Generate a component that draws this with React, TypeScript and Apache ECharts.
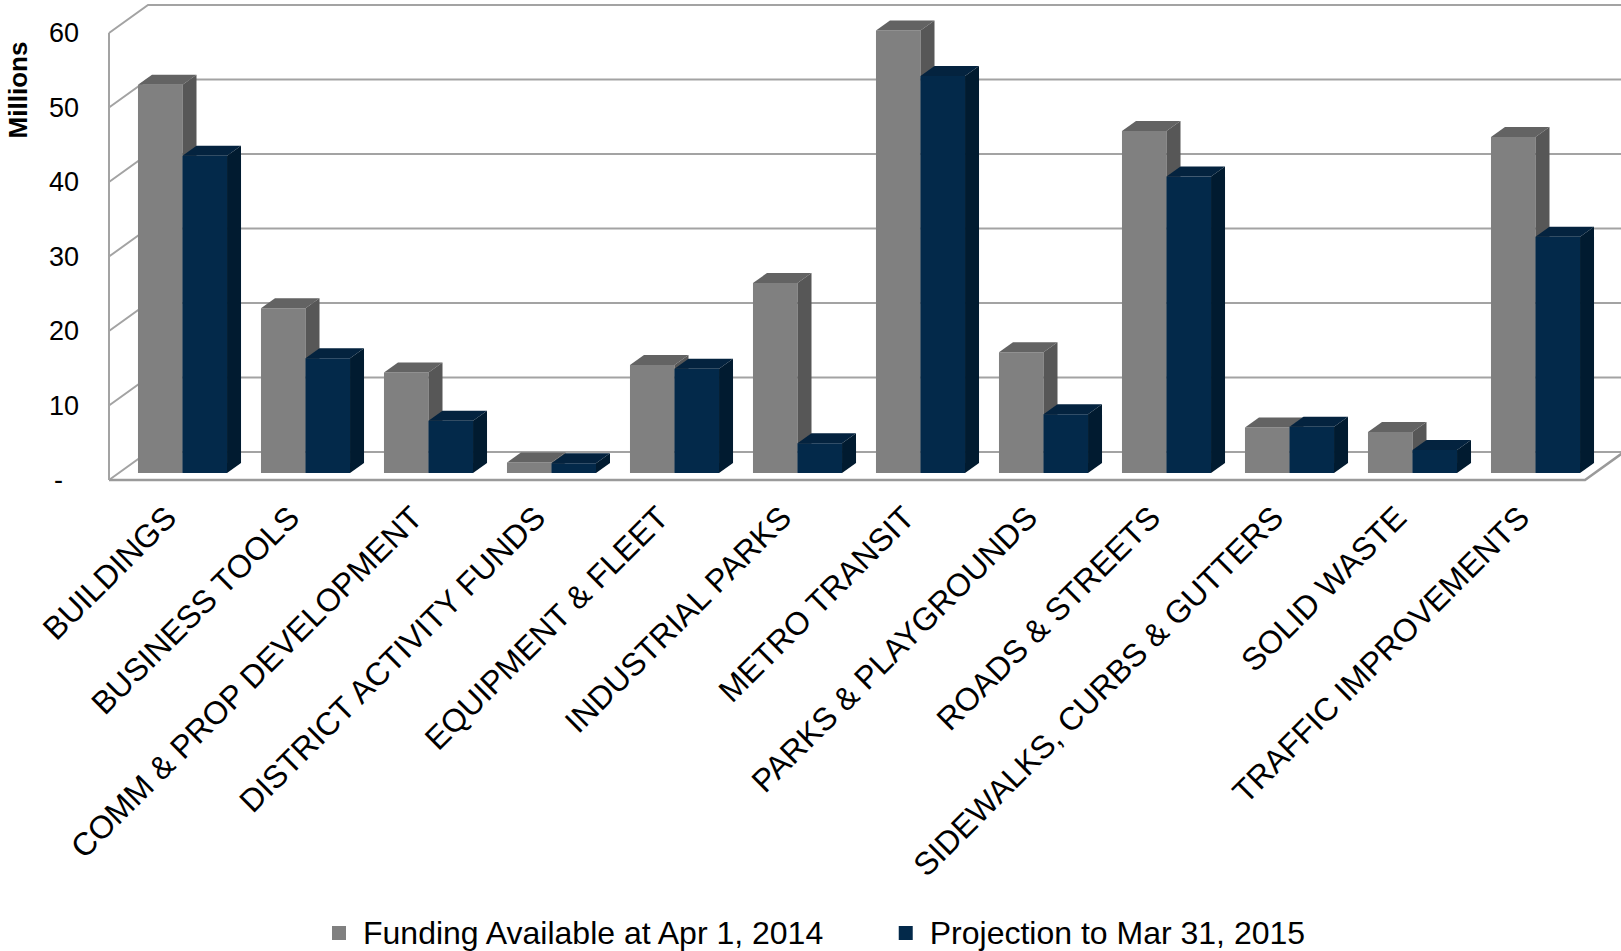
import React, { useEffect, useRef } from "react";
import * as echarts from "echarts";

// Capital funding by program (millions)
const categories: string[] = [
  "BUILDINGS",
  "BUSINESS TOOLS",
  "COMM & PROP DEVELOPMENT",
  "DISTRICT ACTIVITY FUNDS",
  "EQUIPMENT & FLEET",
  "INDUSTRIAL PARKS",
  "METRO TRANSIT",
  "PARKS & PLAYGROUNDS",
  "ROADS & STREETS",
  "SIDEWALKS, CURBS & GUTTERS",
  "SOLID WASTE",
  "TRAFFIC IMPROVEMENTS",
];

const fundingAvailable: number[] = [52.1, 22.1, 13.5, 1.4, 14.5, 25.5, 59.4, 16.2, 45.9, 6.1, 5.5, 45.1];
const projection: number[] = [42.6, 15.4, 7.0, 1.3, 14.0, 4.0, 53.3, 7.9, 39.8, 6.2, 3.1, 31.7];

const seriesNames: string[] = ["Funding Available at Apr 1, 2014", "Projection to Mar 31, 2015"];
const yTicks: number[] = [0, 10, 20, 30, 40, 50, 60];

const FONT = '"Liberation Sans", Arial, Helvetica, sans-serif';
const GRID_COLOR = "#a3a3a3";

// oblique depth of the chart box (front edge -> back wall)
const WALL_DX = 39;
const WALL_DY = 28;
// oblique depth of each column
const BAR_DX = 14;
const BAR_DY = 10;

const palettes = [
  { front: "#808080", top: "#636363", side: "#575757" },
  { front: "#03294A", top: "#04233F", side: "#011B30" },
];

function wallRenderer(params: any, api: any) {
  const cs = params.coordSys;
  const v = api.value(1);
  const y = api.coord([0, v])[1];
  const x0 = cs.x;
  const x1 = cs.x + cs.width;
  const children: any[] = [
    {
      type: "polyline",
      shape: { points: [[x0, y], [x0 + WALL_DX, y - WALL_DY], [x1 + WALL_DX + 6, y - WALL_DY]] },
      style: { stroke: GRID_COLOR, lineWidth: 2, fill: "none" },
    },
  ];
  if (v === 0) {
    children.push({
      type: "polyline",
      shape: { points: [[x0, y], [x1, y], [x1 + WALL_DX, y - WALL_DY]] },
      style: { stroke: "#9a9a9a", lineWidth: 2.5, fill: "none" },
    });
    children.push({
      type: "line",
      shape: { x1: x0, y1: cs.y, x2: x0, y2: y },
      style: { stroke: GRID_COLOR, lineWidth: 2 },
    });
  }
  return { type: "group", children };
}

function barRenderer(seriesIdx: number) {
  const pal = palettes[seriesIdx];
  return (params: any, api: any) => {
    const i = api.value(0);
    const v = api.value(1);
    const base = api.coord([i, 0]);
    const top = api.coord([i, v]);
    const band = api.size([1, 0])[0];
    const w = band * 0.362;
    const x = seriesIdx === 0 ? base[0] - w : base[0];
    const yb = base[1];
    const yt = top[1];
    return {
      type: "group",
      children: [
        {
          type: "polygon",
          shape: { points: [[x, yt], [x + w, yt], [x + w, yb], [x, yb]] },
          style: { fill: pal.front },
        },
        {
          type: "polygon",
          shape: { points: [[x, yt], [x + BAR_DX, yt - BAR_DY], [x + w + BAR_DX, yt - BAR_DY], [x + w, yt]] },
          style: { fill: pal.top },
        },
        {
          type: "polygon",
          shape: { points: [[x + w, yt], [x + w + BAR_DX, yt - BAR_DY], [x + w + BAR_DX, yb - BAR_DY], [x + w, yb]] },
          style: { fill: pal.side },
        },
      ],
    };
  };
}

export default function App() {
  const ref = useRef<HTMLDivElement>(null);

  useEffect(() => {
    if (!ref.current) return;
    const chart = echarts.init(ref.current, null, { renderer: "svg" });
    const option: any = {
      animation: false,
      color: [palettes[0].front, palettes[1].front],
      grid: [
        // front plane of the box (axis labels, walls)
        { left: 109, top: 33, width: 1476, height: 447, outerBoundsMode: "none", containLabel: false },
        // plane of the column fronts
        { left: 121, top: 26, width: 1476, height: 447, outerBoundsMode: "none", containLabel: false },
      ],
      xAxis: [
        {
          gridIndex: 0,
          type: "category",
          data: categories,
          axisLine: { show: false },
          axisTick: { show: false },
          splitLine: { show: false },
          axisLabel: {
            interval: 0,
            rotate: 45,
            margin: 32,
            fontSize: 32,
            color: "#000",
            fontFamily: FONT,
          },
        },
        { gridIndex: 1, type: "category", data: categories, show: false },
      ],
      yAxis: [
        {
          gridIndex: 0,
          type: "value",
          min: 0,
          max: 60,
          interval: 10,
          axisLine: { show: false },
          axisTick: { show: false },
          splitLine: { show: false },
          axisLabel: {
            margin: 30,
            fontSize: 27,
            color: "#000",
            fontFamily: FONT,
            formatter: (v: number) => (v === 0 ? "{d|-}" : String(v)),
            rich: { d: { fontSize: 27, color: "#000", fontFamily: FONT, padding: [0, 16, 0, 0] } },
          },
        },
        { gridIndex: 1, type: "value", min: 0, max: 60, interval: 10, show: false },
      ],
      legend: {
        data: seriesNames,
        left: 327,
        top: 911,
        icon: "rect",
        itemWidth: 14,
        itemHeight: 14,
        itemGap: 72,
        textStyle: { fontSize: 32, lineHeight: 34, color: "#000", fontFamily: FONT, padding: [0, 0, 0, 12] },
      },
      graphic: [
        {
          type: "text",
          x: 18,
          y: 90,
          rotation: Math.PI / 2,
          style: {
            text: "Millions",
            font: `bold 26px ${FONT}`,
            fill: "#000",
            textAlign: "center",
            textVerticalAlign: "middle",
            align: "center",
            verticalAlign: "middle",
          },
        },
      ],
      series: [
        {
          type: "custom",
          name: "walls",
          xAxisIndex: 0,
          yAxisIndex: 0,
          clip: false,
          silent: true,
          z: 1,
          data: yTicks.map((v) => [0, v]),
          encode: { x: 0, y: 1 },
          renderItem: wallRenderer,
        },
        {
          type: "custom",
          name: seriesNames[0],
          xAxisIndex: 1,
          yAxisIndex: 1,
          clip: false,
          z: 2,
          itemStyle: { color: palettes[0].front },
          data: fundingAvailable.map((v, i) => [i, v]),
          encode: { x: 0, y: 1 },
          renderItem: barRenderer(0),
        },
        {
          type: "custom",
          name: seriesNames[1],
          xAxisIndex: 1,
          yAxisIndex: 1,
          clip: false,
          z: 3,
          itemStyle: { color: palettes[1].front },
          data: projection.map((v, i) => [i, v]),
          encode: { x: 0, y: 1 },
          renderItem: barRenderer(1),
        },
      ],
    };
    chart.setOption(option);
    return () => chart.dispose();
  }, []);

  return (
    <div
      ref={ref}
      style={{ position: "absolute", left: 0, top: 0, width: 1621, height: 951, background: "#fff" }}
    />
  );
}
